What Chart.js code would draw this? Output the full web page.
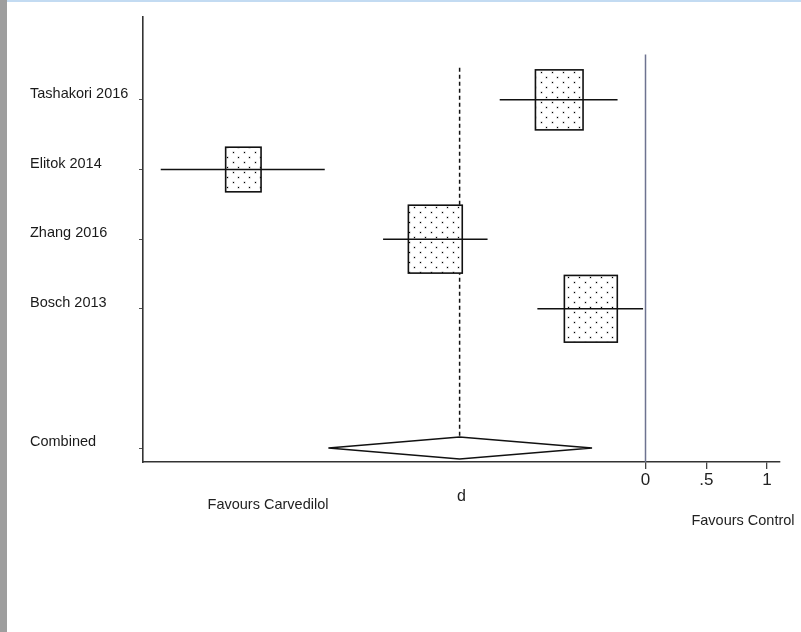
<!DOCTYPE html>
<html>
<head>
<meta charset="utf-8">
<title>Forest plot</title>
<style>
  html, body { margin: 0; padding: 0; background: #fff; }
  #wrap { position: relative; width: 801px; height: 632px; overflow: hidden; }
  #leftBar { position: absolute; left: 0; top: 0; width: 7px; height: 632px; background: #9e9e9e; }
  #topBar { position: absolute; left: 7px; top: 0; right: 0; height: 2px; background: #c3dbf2; }
</style>
<script src="https://cdn.jsdelivr.net/npm/chart.js@4/dist/chart.umd.min.js"></script>
</head>
<body>
<div id="wrap">
  <canvas id="forest" width="801" height="632"></canvas>
  <div id="leftBar"></div>
  <div id="topBar"></div>
</div>
<script>
    // study rows (top to bottom)
    const studies = ['Tashakori 2016', 'Elitok 2014', 'Zhang 2016', 'Bosch 2013'];
    const effect = [-0.71, -3.31, -1.73, -0.45];
    const ciLow = [-1.20, -3.99, -2.16, -0.89];
    const ciHigh = [-0.23, -2.64, -1.30, -0.02];
    const weight = [24.6, 13.6, 31.5, 30.4];

    // pooled estimate: low, estimate, high
    const pooled = [-2.61, -1.53, -0.44];

    const rowLabels = ['Tashakori 2016', 'Elitok 2014', 'Zhang 2016', 'Bosch 2013', 'Combined'];
    const rowIndex = [0, 1, 2, 3, 5];
    const xTicks = [0, 0.5, 1];
    const xTickLabels = ['0', '.5', '1'];

    const sansFont = '"Liberation Sans", Arial, sans-serif';
    const narrowFont = '"Liberation Sans Narrow", "Arial Narrow", "Liberation Sans", Arial, sans-serif';
    const diamondHalf = 11;

    // dotted fill used inside the study boxes
    function dotTile() {
      const c = document.createElement('canvas');
      c.width = 11; c.height = 10;
      const g = c.getContext('2d');
      g.fillStyle = '#fff';
      g.fillRect(0, 0, 11, 10);
      g.fillStyle = '#bbb';
      g.fillRect(1.5, 1.5, 2, 2);
      g.fillRect(6.5, 6.5, 2, 2);
      g.fillStyle = '#000';
      g.fillRect(2, 2, 1, 1);
      g.fillRect(7, 7, 1, 1);
      return c;
    }

    const forestMarks = {
      id: 'forestMarks',
      beforeDatasetsDraw(chart) {
        const {ctx, chartArea, scales: {x, y}} = chart;
        ctx.save();
        // line of no effect
        const x0 = x.getPixelForValue(0);
        ctx.strokeStyle = '#6d7390';
        ctx.lineWidth = 1.5;
        ctx.beginPath();
        ctx.moveTo(x0, y.getPixelForValue(-0.65));
        ctx.lineTo(x0, chartArea.bottom);
        ctx.stroke();

        // dashed line at the combined estimate
        const xp = x.getPixelForValue(pooled[1]);
        ctx.strokeStyle = '#111';
        ctx.lineWidth = 1.5;
        ctx.setLineDash([4, 3]);
        ctx.beginPath();
        ctx.moveTo(xp, y.getPixelForValue(-0.46));
        ctx.lineTo(xp, y.getPixelForValue(rowIndex[4]) - diamondHalf);
        ctx.stroke();
        ctx.setLineDash([]);

        // weighted boxes
        const pat = ctx.createPattern(dotTile(), 'repeat');
        studies.forEach((s, i) => {
          const cx = x.getPixelForValue(effect[i]);
          const cy = y.getPixelForValue(rowIndex[i]);
          const w = 9.6 * Math.sqrt(weight[i]);
          const h = 12.1 * Math.sqrt(weight[i]);
          ctx.fillStyle = pat;
          ctx.fillRect(cx - w / 2, cy - h / 2, w, h);
          ctx.strokeStyle = '#111';
          ctx.lineWidth = 1.6;
          ctx.strokeRect(cx - w / 2, cy - h / 2, w, h);
        });
        ctx.restore();
      },
      afterDatasetsDraw(chart) {
        const {ctx, scales: {x, y}} = chart;
        const cy = y.getPixelForValue(rowIndex[4]);
        ctx.save();
        ctx.beginPath();
        ctx.moveTo(x.getPixelForValue(pooled[0]), cy);
        ctx.lineTo(x.getPixelForValue(pooled[1]), cy - diamondHalf);
        ctx.lineTo(x.getPixelForValue(pooled[2]), cy);
        ctx.lineTo(x.getPixelForValue(pooled[1]), cy + diamondHalf);
        ctx.closePath();
        ctx.fillStyle = '#fff';
        ctx.fill();
        ctx.strokeStyle = '#111';
        ctx.lineWidth = 1.5;
        ctx.stroke();
        ctx.restore();
      },
      afterDraw(chart) {
        const {ctx, chartArea} = chart;
        ctx.save();
        ctx.font = '14.5px ' + sansFont;
        ctx.fillStyle = '#222';
        ctx.textAlign = 'center';
        ctx.textBaseline = 'middle';
        ctx.fillText('Favours Carvedilol', chartArea.left + 125, chartArea.bottom + 43);
        ctx.fillText('Favours Control', chartArea.right - 37, chartArea.bottom + 59);
        ctx.restore();
      }
    };

    const ciLines = studies.map((s, i) => ({
      label: s,
      data: [{x: ciLow[i], y: rowIndex[i]}, {x: ciHigh[i], y: rowIndex[i]}],
      showLine: true,
      borderColor: '#111',
      borderWidth: 1.5,
      pointRadius: 0
    }));

    const config = {
      type: 'scatter',
      data: { datasets: ciLines },
      options: {
        responsive: false,
        animation: false,
        events: [],
        layout: {
          padding: { top: 17, left: 30, right: 21, bottom: 0 }
        },
        scales: {
          x: {
            type: 'linear',
            min: -4.136,
            max: 1.107,
            afterBuildTicks: (scale) => { scale.ticks = xTicks.map(v => ({value: v})); },
            afterFit: (scale) => { scale.height = 170; },
            ticks: {
              callback: (value, index) => xTickLabels[index],
              font: { size: 17, family: narrowFont },
              color: '#222',
              padding: 1,
              maxRotation: 0,
              autoSkip: false
            },
            grid: { drawOnChartArea: false, tickLength: 7, color: '#444', lineWidth: 1.3 },
            border: { color: '#333', width: 1.6 },
            title: {
              display: true,
              text: 'd',
              color: '#222',
              font: { size: 16, family: sansFont },
              padding: { top: 0, bottom: 126 }
            }
          },
          y: {
            type: 'linear',
            reverse: true,
            min: -1.19,
            max: 5.2,
            afterBuildTicks: (scale) => { scale.ticks = rowIndex.map(v => ({value: v})); },
            afterFit: (scale) => { scale.width = 113; },
            ticks: {
              callback: (value, index) => rowLabels[index],
              crossAlign: 'far',
              labelOffset: -6,
              font: { size: 14.5, family: sansFont },
              color: '#1a1a1a',
              autoSkip: false
            },
            grid: { drawOnChartArea: false, tickLength: 4, color: '#555' },
            border: { color: '#333', width: 1.6 }
          }
        },
        plugins: {
          legend: { display: false },
          tooltip: { enabled: false }
        }
      },
      plugins: [forestMarks]
    };

    const forestChart = new Chart(document.getElementById('forest'), config);
</script>
</body>
</html>
